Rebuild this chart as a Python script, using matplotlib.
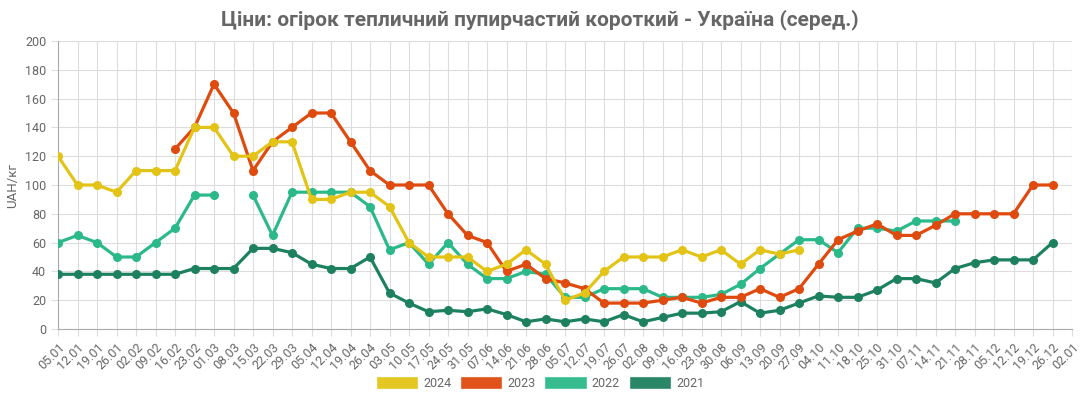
import numpy as np
import matplotlib.pyplot as plt
from matplotlib.patches import Patch

plt.rcParams['font.family'] = ['Roboto', 'DejaVu Sans']

dates = ['05.01', '12.01', '19.01', '26.01', '02.02', '09.02', '16.02', '23.02', '01.03', '08.03',
         '15.03', '22.03', '29.03', '05.04', '12.04', '19.04', '26.04', '03.05', '10.05', '17.05',
         '24.05', '31.05', '07.06', '14.06', '21.06', '28.06', '05.07', '12.07', '19.07', '26.07',
         '02.08', '09.08', '16.08', '23.08', '30.08', '06.09', '13.09', '20.09', '27.09', '04.10',
         '11.10', '18.10', '25.10', '31.10', '07.11', '14.11', '21.11', '28.11', '05.12', '12.12',
         '19.12', '26.12', '02.01']
n = len(dates)
nan = np.nan

y2024 = [120, 100, 100, 95, 110, 110, 110, 140, 140, 120,
         120, 130, 130, 90, 90, 95, 95, 85, 60, 50,
         50, 50, 40, 45, 55, 45, 20, 25, 40, 50,
         50, 50, 55, 50, 55, 45, 55, 52, 55]
y2023 = [nan, nan, nan, nan, nan, nan, 125, 140, 170, 150,
         110, 130, 140, 150, 150, 130, 110, 100, 100, 100,
         80, 65, 60, 40, 45, 35, 32, 28, 18, 18,
         18, 20, 22, 18, 22, 22, 28, 22, 28, 45,
         62, 68, 73, 65, 65, 72, 80, 80, 80, 80,
         100, 100]
y2022 = [60, 65, 60, 50, 50, 60, 70, 93, 93, nan,
         93, 65, 95, 95, 95, 95, 85, 55, 60, 45,
         60, 45, 35, 35, 40, 38, 22, 22, 28, 28,
         28, 22, 22, 22, 24, 31, 42, 52, 62, 62,
         53, 70, 70, 68, 75, 75, 75]
y2021 = [38, 38, 38, 38, 38, 38, 38, 42, 42, 42,
         56, 56, 53, 45, 42, 42, 50, 25, 18, 12,
         13, 12, 14, 10, 5, 7, 5, 7, 5, 10,
         5, 8, 11, 11, 12, 19, 11, 13, 18, 23,
         22, 22, 27, 35, 35, 32, 42, 46, 48, 48,
         48, 60]

series = [('2024', y2024, '#e3c416'), ('2023', y2023, '#df4a0e'),
          ('2022', y2022, '#2cb98a'), ('2021', y2021, '#1d8160')]

fig = plt.figure(figsize=(10.8, 4), dpi=100)
ax = fig.add_axes([58 / 1080, 1 - 329 / 400, (1072 - 58) / 1080, (329 - 41) / 400])

for k, (name, vals, col) in enumerate(series):
    v = np.array(vals, dtype=float)
    ax.plot(np.arange(len(v)), v, '-o', color=col, lw=2.3, ms=5.5,
            zorder=10 - k, solid_joinstyle='round')

ax.set_xlim(0, n - 1)
ax.set_ylim(0, 200)
ax.set_yticks(np.arange(0, 201, 20))
ax.set_xticks(np.arange(n))
ax.set_xticklabels(dates, rotation=45, ha='right', rotation_mode='anchor')
ax.grid(True, color='#dddddd', lw=0.8)
ax.set_axisbelow(True)
for s in ['top', 'right']:
    ax.spines[s].set_visible(False)
for s in ['left', 'bottom']:
    ax.spines[s].set_color('#aaaaaa')
ax.tick_params(colors='#666666', labelsize=9, length=5, width=0.8)
ax.tick_params(axis='both', color='#dddddd')
ax.set_ylabel('UAH/кг', color='#666666', fontsize=9.5, labelpad=4)

fig.text(0.5, 0.95, 'Ціни: огірок тепличний пупирчастий короткий - Україна (серед.)',
         ha='center', va='center', fontsize=15, fontweight='bold', color='#666666')

handles = [Patch(facecolor=c, edgecolor='#ffffff', alpha=0.95, label=nm) for nm, _, c in series]
fig.legend(handles=handles, loc='center', bbox_to_anchor=(0.5, 0.042), ncol=4, frameon=False,
           handlelength=3.4, handleheight=1.15, columnspacing=0.7, handletextpad=0.4,
           fontsize=9, labelcolor='#666666')

fig.savefig('out.png', dpi=100)
